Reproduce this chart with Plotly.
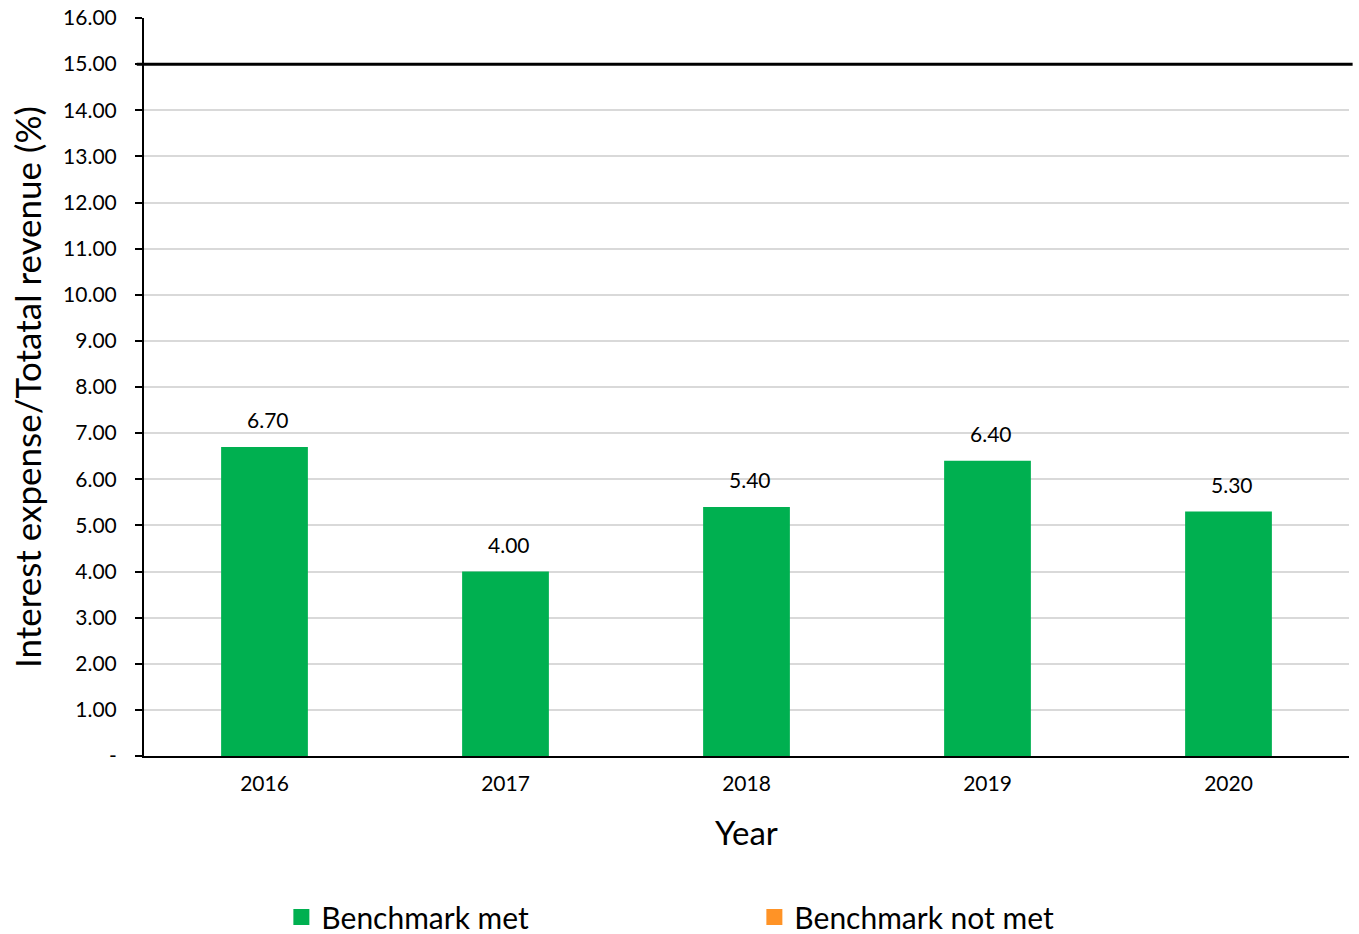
import plotly.graph_objects as go

years = ["2016", "2017", "2018", "2019", "2020"]
ratio = [6.70, 4.00, 5.40, 6.40, 5.30]
benchmark = 15.0
y_ticks = [0, 1, 2, 3, 4, 5, 6, 7, 8, 9, 10, 11, 12, 13, 14, 15, 16]
y_tick_text = ["-"] + [f"{v:.2f}" for v in y_ticks[1:]]

GREEN = "#00B050"
ORANGE = "#FF9326"
FONT = "Lato, Carlito, Calibri, sans-serif"

fig = go.Figure()
fig.add_trace(go.Bar(
    x=years, y=ratio, name="Benchmark met",
    marker=dict(color=GREEN, line=dict(width=0)),
    hoverinfo="x+y", showlegend=False, legendgroup="met",
))

# legend keys: square swatches for met / not met
for label, colour, group in [("Benchmark met", GREEN, "met"),
                             ("Benchmark not met", ORANGE, "notmet")]:
    fig.add_trace(go.Scatter(
        x=[None], y=[None], mode="markers", name=label,
        legendgroup=group,
        marker=dict(symbol="square", size=16, color=colour,
                    line=dict(width=0)),
    ))

# value labels above each bar (category index positions)
for i, v in enumerate(ratio):
    fig.add_annotation(
        x=i, y=v, text=f"{v:.2f}", showarrow=False,
        yanchor="bottom", yshift=13, xshift=3,
        font=dict(family=FONT, size=21, color="#000000"),
    )

# benchmark threshold line
fig.add_shape(
    type="line", xref="paper", yref="y",
    x0=-0.006, x1=1.003, y0=benchmark, y1=benchmark,
    line=dict(color="#000000", width=3),
)

# axis titles
fig.add_annotation(
    text="Interest expense/Totatal revenue (%)", textangle=-90,
    xref="paper", yref="paper", x=-0.097, y=0.5,
    xanchor="center", yanchor="middle", showarrow=False,
    font=dict(family=FONT, size=35, color="#000000"),
)
fig.add_annotation(
    text="Year", xref="paper", yref="paper", x=0.5, y=-0.103,
    xanchor="center", yanchor="middle", showarrow=False,
    font=dict(family=FONT, size=33, color="#000000"),
)

fig.update_layout(
    template="none",
    width=1359, height=934,
    margin=dict(l=144, r=10, t=18, b=178, autoexpand=False),
    paper_bgcolor="#FFFFFF", plot_bgcolor="#FFFFFF",
    font=dict(family=FONT, size=21, color="#000000"),
    bargap=0.64, barmode="overlay",
    showlegend=True,
    legend=dict(
        orientation="h", x=0.114, xanchor="left",
        y=-0.218, yanchor="middle",
        font=dict(family=FONT, size=30, color="#000000"),
        entrywidth=428, entrywidthmode="pixels",
        bgcolor="rgba(0,0,0,0)",
    ),
    xaxis=dict(
        type="category", automargin=False,
        range=[-0.5, 4.5],
        showline=True, linecolor="#000000", linewidth=2,
        ticks="", showgrid=False, zeroline=False,
        tickfont=dict(family=FONT, size=21),
        ticklabelstandoff=8,
    ),
    yaxis=dict(
        automargin=False,
        range=[0, 16],
        tickvals=y_ticks, ticktext=y_tick_text,
        showline=True, linecolor="#000000", linewidth=2,
        ticks="outside", ticklen=7, tickcolor="#000000", tickwidth=2,
        showgrid=True, gridcolor="#D9D9D9", gridwidth=1.5,
        zeroline=False,
        tickfont=dict(family=FONT, size=21),
        ticklabelstandoff=14,
    ),
)

fig.write_html("out.html")
